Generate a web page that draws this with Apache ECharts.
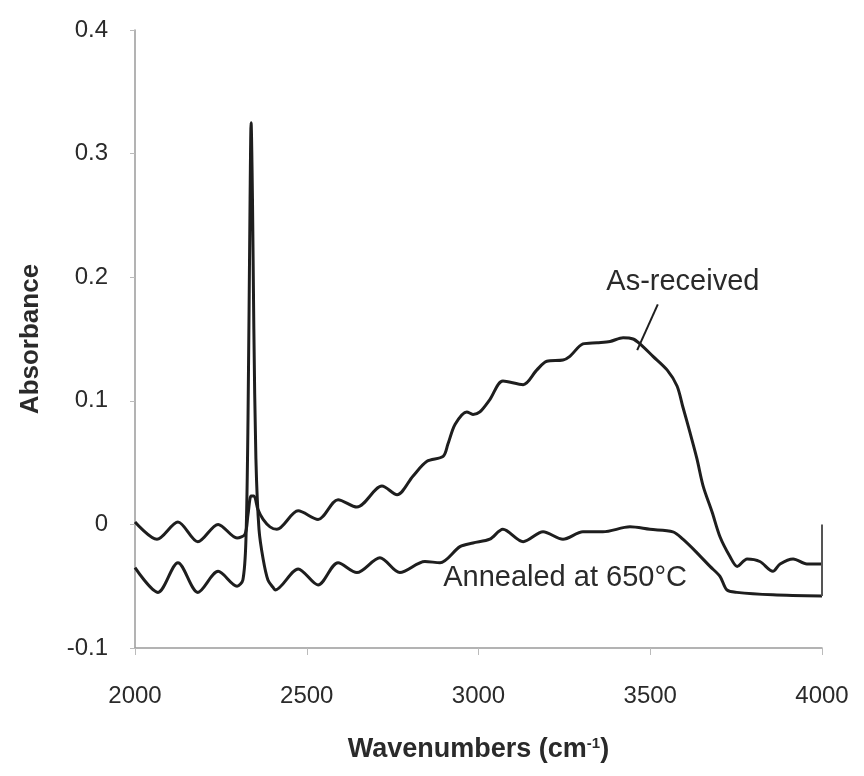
<!DOCTYPE html>
<html>
<head>
<meta charset="utf-8">
<script src="https://cdn.jsdelivr.net/npm/echarts@6/dist/echarts.min.js"></script>
<style>html,body{margin:0;padding:0;background:#fff;}#c{width:864px;height:776px;}</style>
</head>
<body>
<div id="c"></div>
<script>
// Wavenumbers (cm-1) and absorbance
var annealedX = [2000,2067,2125,2183,2242,2297,2314,2323,2329,2335,2338,2342,2346,2352,2361,2373,2387,2402,2408,2475,2533,2591,2646,2713,2771,2844,2888,2946,2984,3033,3071,3130,3188,3246,3304,3362,3441,3499,3566,3595,3636,3674,3703,3723,3752,3857,4000];
var annealedY = [-0.035,-0.055,-0.031,-0.055,-0.038,-0.050,-0.045,-0.012,0.085,0.263,0.325,0.263,0.158,0.053,-0.004,-0.028,-0.045,-0.051,-0.053,-0.036,-0.049,-0.031,-0.039,-0.027,-0.039,-0.030,-0.031,-0.018,-0.015,-0.012,-0.004,-0.014,-0.006,-0.012,-0.006,-0.006,-0.002,-0.004,-0.006,-0.012,-0.023,-0.034,-0.042,-0.053,-0.055,-0.057,-0.058];
// vertical end line of the scan at 4000 cm-1
var endX = [4000, 4000];
var endY = [-0.058, 0.0];

var asReceivedX = [2000,2064,2125,2183,2242,2297,2320,2329,2338,2346,2358,2373,2393,2413,2475,2533,2591,2646,2719,2763,2809,2850,2897,2911,2932,2966,2984,3004,3033,3071,3130,3170,3199,3246,3266,3304,3345,3383,3421,3450,3470,3508,3549,3578,3595,3616,3636,3654,3680,3703,3732,3753,3782,3819,3857,3878,3916,3956,4000];
var asReceivedY = [0.002,-0.012,0.002,-0.014,0.000,-0.011,-0.008,0.008,0.023,0.023,0.012,0.004,-0.002,-0.004,0.011,0.004,0.020,0.014,0.031,0.024,0.039,0.051,0.055,0.065,0.081,0.091,0.089,0.091,0.101,0.116,0.113,0.125,0.132,0.133,0.136,0.146,0.147,0.148,0.151,0.150,0.146,0.136,0.125,0.112,0.095,0.074,0.053,0.031,0.010,-0.010,-0.026,-0.034,-0.028,-0.030,-0.038,-0.032,-0.028,-0.032,-0.032];

var xTicks = [2000, 2500, 3000, 3500, 4000];
var yTicks = [-0.1, 0, 0.1, 0.2, 0.3, 0.4];

function zip(xs, ys) { return xs.map(function (x, i) { return [x, ys[i]]; }); }

var FONT = '"Liberation Sans", Arial, sans-serif';
var TXT = '#2a2a2a';
var LINE = '#1e1e1e';
var chart = echarts.init(document.getElementById('c'));
chart.setOption({
  backgroundColor: '#fff',
  animation: false,
  grid: { left: 135, right: 42, top: 30, bottom: 128 },
  xAxis: {
    type: 'value',
    min: xTicks[0], max: xTicks[xTicks.length - 1], interval: 500,
    splitLine: { show: false },
    axisLine: { onZero: false, lineStyle: { color: '#9a9a9a', width: 1.5 } },
    axisTick: { length: 7, lineStyle: { color: '#bbbbbb', width: 1 } },
    axisLabel: { margin: 36, fontSize: 24, color: TXT, fontFamily: FONT,
      formatter: function (v) { return String(v); } },
    name: 'Wavenumbers (cm{sup|-1})',
    nameLocation: 'middle', nameGap: 88,
    nameTextStyle: {
      fontSize: 27, fontWeight: 'bold', color: TXT, fontFamily: FONT,
      rich: { sup: { fontSize: 15, fontWeight: 'bold', verticalAlign: 'top', padding: [0,0,12,0], color: TXT, fontFamily: FONT } }
    }
  },
  yAxis: {
    type: 'value',
    min: yTicks[0], max: yTicks[yTicks.length - 1], interval: 0.1,
    splitLine: { show: false },
    axisLine: { onZero: false, lineStyle: { color: '#9a9a9a', width: 1.5 } },
    axisTick: { length: 5, lineStyle: { color: '#bbbbbb', width: 1 } },
    axisLabel: { margin: 27, fontSize: 24, color: TXT, fontFamily: FONT,
      formatter: function (v) { return String(Math.round(v * 10) / 10); } },
    name: 'Absorbance',
    nameLocation: 'middle', nameGap: 91, nameRotate: 90,
    nameTextStyle: { fontSize: 26, fontWeight: 'bold', color: TXT, fontFamily: FONT }
  },
  series: [
    {
      name: 'As-received', type: 'line', showSymbol: false, symbol: 'none',
      smooth: 0.3,
      lineStyle: { color: LINE, width: 3 },
      data: zip(asReceivedX, asReceivedY),
      markPoint: {
        symbol: 'circle', symbolSize: 0,
        data: [{ coord: [3595, 0.196], label: { show: true, position: 'inside', formatter: 'As-received', fontSize: 29, color: TXT, fontFamily: FONT } }]
      },
      markLine: {
        silent: true, symbol: ['none', 'arrow'], symbolSize: [0, 14],
        lineStyle: { color: LINE, width: 2, type: 'solid' },
        label: { show: false },
        data: [[{ coord: [3522, 0.178] }, { coord: [3462, 0.141] }]]
      }
    },
    {
      name: 'Annealed at 650°C', type: 'line', showSymbol: false, symbol: 'none',
      smooth: 0.3,
      lineStyle: { color: LINE, width: 3 },
      data: zip(annealedX, annealedY),
      markPoint: {
        symbol: 'circle', symbolSize: 0,
        data: [{ coord: [3252, -0.043], label: { show: true, position: 'inside', formatter: 'Annealed at 650°C', fontSize: 29, color: TXT, fontFamily: FONT } }]
      }
    },
    {
      name: 'end', type: 'line', showSymbol: false, symbol: 'none',
      lineStyle: { color: '#555', width: 2 },
      data: zip(endX, endY)
    }
  ]
});
</script>
</body>
</html>
